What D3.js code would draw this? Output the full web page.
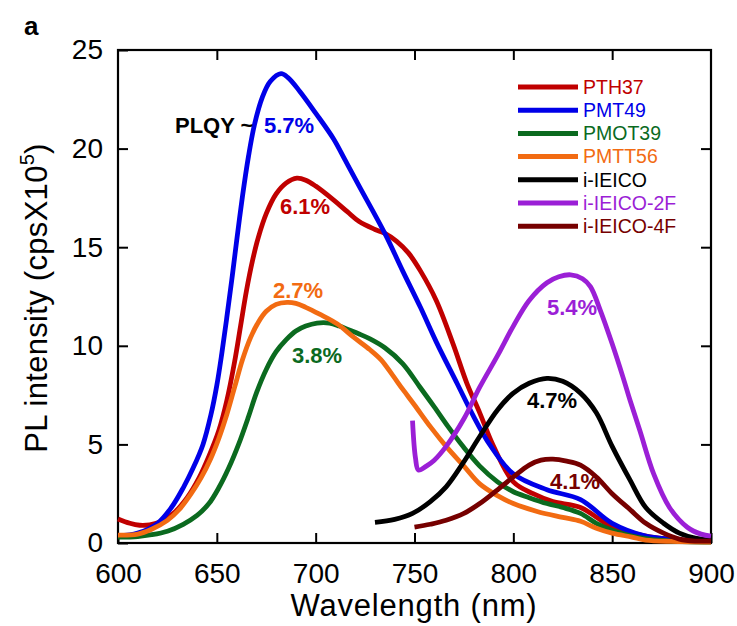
<!DOCTYPE html>
<html lang="en">
<head>
    <meta charset="UTF-8">
    <title>PL spectra</title>
    <script src="https://cdn.jsdelivr.net/npm/d3@7"></script>
    <style>
        body { margin: 0; background: #fff; }
        svg { font-family: 'Liberation Sans', Arial, sans-serif; }
        .tick text { font-size: 28px; fill: #000; }
        .tick line { stroke: #000; stroke-width: 2; }
        .ann { font-size: 22px; font-weight: bold; }
        .leg { font-size: 19.5px; }
    </style>
</head>
<body>
<svg width="737" height="626"></svg>
<script>
    // spectra: [wavelength nm, PL intensity x10^5 cps]
    const pth37 = [[600,1.22],[606,1.0],[611,0.9],[616,0.92],[621,1.05],[628,1.5],[635,2.3],[641,3.3],[646,4.4],
        [651,5.7],[655,7.2],[659,9.2],[662,11.0],[665,12.8],[668,14.3],[671,15.5],[675,16.7],[680,17.7],[685,18.25],
        [690.5,18.5],[695,18.4],[700,18.1],[709,17.4],[716,16.8],[722,16.3],[730,15.9],[735,15.7],[741,15.3],
        [747,14.7],[753,13.8],[761,12.3],[769.5,10.1],[776.5,8.1],[783,6.6],[790,4.9],[800,3.1],[810,2.5],[820,2.1],
        [834,1.8],[850,0.8],[860,0.5],[870,0.3],[880,0.18],[900,0.1]];
    const pmt49 = [[600,0.35],[610,0.5],[620,1.0],[627,1.8],[633,2.8],[638,3.8],[643,5.0],[647,6.5],[650,8.0],
        [652.5,9.6],[655,11.4],[657.5,13.3],[660,15.3],[663,17.6],[666,19.6],[669,21.2],[673,22.6],[677,23.4],
        [682.5,23.8],[686,23.6],[692,22.9],[700,21.8],[709,20.5],[715,19.4],[722,18.1],[735,15.7],[744,13.8],
        [753,11.95],[761,10.2],[771.5,8.1],[780,6.4],[788,5.0],[800,3.5],[817,2.7],[834,2.2],[850,1.0],[867,0.35],
        [880,0.2],[890,0.12],[900,0.08]];
    const pmot39 = [[600,0.3],[610,0.33],[617,0.42],[625,0.6],[633,0.95],[640,1.4],[646,2.0],[651,2.8],[656,3.8],
        [661,5.0],[666,6.4],[670,7.6],[675,8.8],[680,9.7],[685,10.3],[690,10.75],[695,11.0],[700.7,11.15],
        [707,11.15],[712,11.0],[717,10.8],[722,10.6],[727.5,10.35],[735,9.9],[744,9.1],[752.8,7.9],[760,6.9],
        [767,5.9],[774.5,4.9],[783,3.9],[792,3.1],[800,2.6],[808,2.3],[817,2.0],[825,1.8],[834,1.5],[842,1.0],
        [850,0.65],[860,0.35],[870,0.18],[880,0.1],[900,0.05]];
    const pmtt56 = [[600,0.4],[610,0.45],[617,0.7],[625,1.15],[631,1.7],[637,2.5],[642,3.3],[647,4.3],[651,5.3],
        [655,6.5],[659,7.9],[663,9.3],[667,10.4],[671,11.2],[675,11.75],[680,12.1],[685.5,12.2],[690,12.15],
        [695,11.95],[702,11.6],[711,11.1],[719,10.45],[727.5,9.8],[733,9.3],[739,8.5],[744,7.8],[750,7.0],
        [758,5.9],[766,4.9],[775,3.9],[783,3.0],[792,2.4],[800,2.0],[812,1.6],[825,1.3],[834,1.1],[842,0.75],
        [850,0.5],[860,0.3],[867,0.15],[880,0.08],[900,0.05]];
    const ieico = [[730,1.05],[740,1.2],[749,1.5],[758,2.1],[766,2.85],[774.5,4.05],[783,5.4],[792,6.75],[800,7.6],
        [808,8.1],[817,8.35],[825,8.2],[834,7.6],[842,6.6],[850,4.9],[859,3.2],[867,1.8],[876,1.0],[884,0.5],
        [892,0.25],[900,0.15]];
    const ieico2f = [[749,6.2],[750.5,4.3],[752,3.7],[756,3.9],[760,4.2],[766,4.9],[775,6.3],[783,7.9],[792,9.5],
        [800,11.0],[808,12.3],[817,13.2],[823,13.5],[829,13.6],[835,13.4],[839,13.0],[844,11.8],[850,10.1],
        [855.5,8.4],[859,7.25],[864,5.7],[871,3.5],[879,1.8],[888,0.8],[895,0.45],[900,0.35]];
    const ieico4f = [[750,0.8],[758,0.95],[766,1.15],[775,1.5],[783,2.0],[792,2.7],[800,3.35],[808,3.95],[814,4.2],
        [820,4.25],[827,4.15],[834,3.95],[842,3.35],[850,2.5],[859,1.7],[867,1.0],[876,0.5],[884,0.2],[892,0.1],
        [900,0.1]];

    const names = ["PTH37", "PMT49", "PMOT39", "PMTT56", "i-IEICO", "i-IEICO-2F", "i-IEICO-4F"];
    const colors = ["#c00000", "#0000e8", "#0b6a1f", "#f26b12", "#000000", "#9b1fd6", "#760000"];
    const spectra = [pth37, pmt49, pmot39, pmtt56, ieico, ieico2f, ieico4f];

    const plqyLabels = ["6.1%", "5.7%", "3.8%", "2.7%", "4.7%", "5.4%", "4.1%"];
    const plqyPos = [[280,214],[264,133],[292,363],[273,298],[527,408],[547,315],[550,489]];

    const xTicks = [600, 650, 700, 750, 800, 850, 900];
    const yTicks = [0, 5, 10, 15, 20, 25];

    const svg = d3.select("svg");
    const x = d3.scaleLinear().domain([600, 900]).range([118, 711]);
    const y = d3.scaleLinear().domain([0, 25]).range([543, 50]);

    // axes with inward ticks on all four sides
    svg.append("g").attr("transform", "translate(0,543)")
        .call(d3.axisBottom(x).tickValues(xTicks).tickSizeInner(-10).tickSizeOuter(0).tickPadding(20))
        .call(g => g.select(".domain").remove());
    svg.append("g").attr("transform", "translate(0,50)")
        .call(d3.axisTop(x).tickValues(xTicks.slice(1, -1)).tickSizeInner(-10).tickSizeOuter(0).tickFormat(""))
        .call(g => g.select(".domain").remove());
    svg.append("g").attr("transform", "translate(118,0)")
        .call(d3.axisLeft(y).tickValues(yTicks).tickSizeInner(-10).tickSizeOuter(0).tickPadding(15))
        .call(g => g.select(".domain").remove());
    svg.append("g").attr("transform", "translate(711,0)")
        .call(d3.axisRight(y).tickValues(yTicks.slice(1, -1)).tickSizeInner(-10).tickSizeOuter(0).tickFormat(""))
        .call(g => g.select(".domain").remove());

    svg.append("rect")
        .attr("x", x(600)).attr("y", y(25))
        .attr("width", x(900) - x(600)).attr("height", y(0) - y(25))
        .attr("fill", "none").attr("stroke", "#000").attr("stroke-width", 2.2);

    const line = d3.line()
        .x(d => x(d[0])).y(d => y(d[1]))
        .curve(d3.curveCatmullRom.alpha(0.5));

    spectra.forEach((s, i) => {
        svg.append("path").datum(s)
            .attr("d", line)
            .attr("fill", "none")
            .attr("stroke", colors[i])
            .attr("stroke-width", 4.8)
            .attr("stroke-linejoin", "round")
            .attr("stroke-linecap", "butt");
    });

    // PLQY annotations
    svg.append("text").attr("class", "ann").attr("x", 175).attr("y", 133).text("PLQY ~");
    plqyLabels.forEach((t, i) => {
        svg.append("text").attr("class", "ann")
            .attr("x", plqyPos[i][0]).attr("y", plqyPos[i][1])
            .attr("fill", colors[i]).text(t);
    });

    // legend
    const leg = svg.append("g");
    names.forEach((n, i) => {
        const ly = 87 + i * 23.2;
        leg.append("line").attr("x1", 518).attr("x2", 578).attr("y1", ly).attr("y2", ly)
            .attr("stroke", colors[i]).attr("stroke-width", 5);
        leg.append("text").attr("class", "leg").attr("x", 583).attr("y", ly).attr("dy", "0.35em")
            .attr("fill", colors[i]).text(n);
    });

    // titles
    svg.append("text").attr("x", 414).attr("y", 616)
        .attr("text-anchor", "middle").attr("font-size", 31).attr("letter-spacing", 0.8)
        .text("Wavelength (nm)");

    const yt = svg.append("text")
        .attr("transform", "translate(47,298) rotate(-90)")
        .attr("text-anchor", "middle").attr("font-size", 31).attr("letter-spacing", 0.3);
    yt.append("tspan").text("PL intensity (cpsX10");
    yt.append("tspan").attr("font-size", 20).attr("dy", -13).text("5");
    yt.append("tspan").attr("dy", 13).text(")");

    svg.append("text").attr("x", 24).attr("y", 35)
        .attr("font-size", 26).attr("font-weight", "bold").text("a");
</script>
</body>
</html>
